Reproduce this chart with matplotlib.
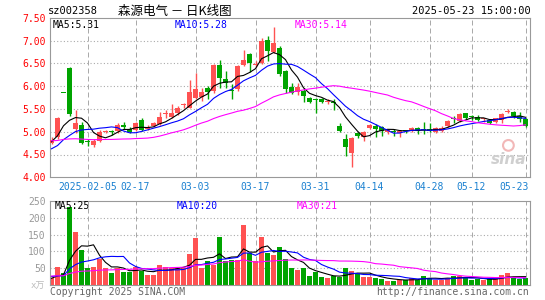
"""
Daily K-line chart (sz002358) with volume panel
"""

## Imports
import numpy as np
import pandas as pd
import matplotlib
matplotlib.use("Agg")
import matplotlib.pyplot as plt

## Data (one entry per trading day)
opens = [4.75, 4.88, 5.84, 6.40, 5.06, 5.15, 4.78, 4.71, 4.80, 5.00,
         4.99, 5.02, 5.15, 5.07, 5.04, 5.25, 5.06, 5.12, 5.17, 5.39,
         5.33, 5.42, 5.59, 5.53, 5.75, 5.77, 5.96, 5.89, 6.47, 6.16,
         5.90, 5.93, 6.47, 6.71, 6.47, 6.50, 7.02, 6.74, 6.83, 6.33,
         5.98, 5.86, 5.89, 5.75, 5.70, 5.71, 5.66, 5.63, 5.12, 4.84,
         4.54, 4.97, 4.88, 5.09, 5.13, 5.10, 4.99, 5.02, 4.97, 5.02,
         5.02, 5.09, 5.04, 5.07, 5.00, 5.02, 5.12, 5.31, 5.24, 5.40,
         5.33, 5.33, 5.27, 5.25, 5.21, 5.26, 5.43, 5.44, 5.35, 5.28]
highs = [4.88, 5.32, 5.84, 6.42, 5.48, 5.22, 4.85, 4.84, 5.04, 5.03,
         5.04, 5.20, 5.21, 5.10, 5.21, 5.30, 5.14, 5.22, 5.43, 5.48,
         5.60, 5.57, 5.64, 6.13, 6.29, 5.96, 6.00, 6.49, 6.58, 6.33,
         6.04, 6.47, 6.80, 6.73, 6.55, 7.05, 7.09, 7.30, 6.87, 6.36,
         6.07, 6.06, 5.96, 5.77, 5.73, 5.75, 5.72, 5.72, 5.20, 4.95,
         4.89, 5.00, 5.02, 5.17, 5.17, 5.13, 5.07, 5.06, 5.04, 5.04,
         5.11, 5.11, 5.22, 5.19, 5.11, 5.12, 5.26, 5.34, 5.40, 5.42,
         5.37, 5.37, 5.31, 5.28, 5.31, 5.40, 5.50, 5.46, 5.44, 5.31]
lows = [4.73, 4.85, 5.84, 5.35, 4.98, 4.73, 4.68, 4.67, 4.77, 4.97,
        4.93, 4.98, 5.07, 4.97, 5.02, 5.01, 5.04, 5.10, 5.15, 5.31,
        5.29, 5.36, 5.53, 5.51, 5.71, 5.67, 5.71, 5.84, 5.96, 5.96,
        5.72, 5.89, 6.43, 6.32, 6.41, 6.48, 6.54, 6.73, 6.23, 5.85,
        5.83, 5.81, 5.65, 5.64, 5.42, 5.62, 5.61, 5.48, 4.99, 4.47,
        4.23, 4.86, 4.80, 5.07, 4.88, 4.91, 4.95, 4.91, 4.88, 4.97,
        5.00, 4.95, 4.95, 5.00, 4.98, 5.00, 5.10, 5.20, 5.22, 5.28,
        5.25, 5.23, 5.22, 5.17, 5.18, 5.18, 5.40, 5.31, 5.22, 5.11]
closes = [4.82, 5.31, 5.84, 5.38, 5.20, 4.75, 4.78, 4.80, 4.99, 5.01,
          4.99, 5.15, 5.10, 5.00, 5.20, 5.04, 5.11, 5.18, 5.33, 5.42,
          5.42, 5.53, 5.61, 5.86, 5.94, 5.86, 5.86, 6.47, 6.18, 6.07,
          5.89, 6.45, 6.58, 6.50, 6.49, 6.98, 6.77, 6.94, 6.27, 5.94,
          5.85, 5.98, 5.78, 5.66, 5.69, 5.66, 5.67, 5.62, 5.01, 4.66,
          4.86, 4.91, 5.00, 5.14, 5.06, 5.02, 5.04, 4.99, 5.02, 5.01,
          5.09, 5.02, 5.03, 5.02, 5.09, 5.09, 5.24, 5.28, 5.38, 5.29,
          5.32, 5.25, 5.28, 5.19, 5.29, 5.38, 5.44, 5.35, 5.28, 5.13]
volumes = [22, 55, 35, 233, 157, 103, 50, 55, 78, 51,
           35, 50, 38, 38, 55, 43, 31, 31, 61, 53,
           50, 50, 50, 91, 140, 51, 70, 60, 143, 70,
           73, 73, 178, 95, 70, 143, 95, 88, 113, 77,
           50, 46, 50, 28, 40, 23, 20, 26, 23, 52,
           43, 33, 25, 25, 21, 18, 13, 13, 15, 15,
           21, 15, 28, 21, 16, 16, 21, 26, 28, 21,
           15, 18, 15, 17, 21, 29, 35, 21, 18, 21]

## Days before the window (estimated from where the MA lines start), only used for the MAs
pre_closes = [5.10, 5.15, 5.05, 5.08, 4.98, 5.02, 4.95, 4.92, 4.93, 4.98,
              5.00, 4.96, 4.94, 4.97, 4.92, 4.92, 4.70, 4.52, 4.38, 4.30,
              4.60, 4.55, 4.45, 4.35, 4.40, 4.66, 4.74, 4.78, 4.90]
pre_volumes = [32, 28, 35, 30, 26, 30, 28, 33, 27, 31,
               26, 24, 28, 22, 25, 27, 23, 21, 26, 24,
               36, 32, 28, 30, 26, 20, 18, 19, 21]

tick_idx = [6, 14, 24, 34, 44, 53, 63, 70, 79]
tick_lbl = ["2025-02-05", "02-17", "03-03", "03-17", "03-31",
            "04-14", "04-28", "05-12", "05-23"]
price_ticks = [4.0, 4.5, 5.0, 5.5, 6.0, 6.5, 7.0, 7.5]
vol_ticks = [50, 100, 150, 200, 250]
ma_lbl = ["MA5:5.31", "MA10:5.28", "MA30:5.14"]
vol_ma_lbl = ["MA5:25", "MA10:20", "MA30:21"]

## Styles
W, H = 545, 300
RED = "#ff5252"
GREEN = "#00a400"
MA_COLORS = ["#000000", "#0000ff", "#ff00ff"]
MA_X = [53, 175, 295]
FRAME = "#999999"
GRID = "#aaaaaa"
MONO = "DejaVu Sans Mono"


## Methods
def px(x, y):
    """pixel position (from top-left) -> figure fraction"""
    return x / W, 1 - y / H


def moving_average(pre, vals, n):
    s = pd.Series(list(pre) + list(vals), dtype=float)
    return s.rolling(n).mean().values[len(pre):]


def style_axes(ax):
    for sp in ax.spines.values():
        sp.set_color(FRAME)
        sp.set_linewidth(0.8)
    ax.tick_params(length=0)
    ax.set_xticks([])
    for i in tick_idx:
        ax.axvline(i, color=GRID, lw=0.72, ls=(0, (5, 3)), zorder=0)


def main():
    n = len(closes)
    x = np.arange(n)
    o = np.array(opens)
    c = np.array(closes)
    up = c > o
    colors = [RED if u else GREEN for u in up]

    fig = plt.figure(figsize=(W / 100, H / 100), dpi=100)

    ## Price panel
    ax = fig.add_axes([50 / W, 1 - 177.3 / H, 480 / W, 159.6 / H])
    style_axes(ax)
    ax.set_xlim(-0.25, n - 0.25)
    ax.set_ylim(price_ticks[0], price_ticks[-1])
    for p in price_ticks[1:-1]:
        ax.axhline(p, color=GRID, lw=0.8, ls=(0, (1, 2)), zorder=0)
    ax.set_yticks(price_ticks)
    ax.set_yticklabels(["%.2f" % p for p in price_ticks], color="#ff0000",
                       fontsize=7, family=MONO)
    ax.tick_params(axis="y", pad=3)

    ax.vlines(x, lows, highs, colors=colors, lw=1.0, zorder=2)
    body_lo = np.minimum(o, c)
    body_h = np.maximum(np.abs(c - o), 0.022)
    ax.bar(x, body_h, bottom=body_lo, width=0.8, color=colors, lw=0, zorder=3)

    for k, per in enumerate([5, 10, 30]):
        ax.plot(x, moving_average(pre_closes, closes, per),
                color=MA_COLORS[k], lw=0.8, zorder=4)
        fig.text(*px(MA_X[k], 25), ma_lbl[k], color=MA_COLORS[k],
                 fontsize=7, family=MONO, va="center")

    ## sina watermark (eye logo + word)
    ax.scatter([0.955], [0.2], s=60, transform=ax.transAxes, facecolor="none",
               edgecolor="#f2b8b8", lw=1.5, zorder=1)
    ax.text(0.955, 0.11, "sina", transform=ax.transAxes, ha="center", va="center",
            fontsize=11, fontweight="bold", style="italic", color="#cfcfcf", zorder=1)

    ## Date labels
    for i, lbl in zip(tick_idx, tick_lbl):
        xf = (50 + (i + 0.25) * 6) / W
        ha = "center"
        if i == tick_idx[-1]:
            ha, xf = "right", (50 + (i + 0.25) * 6 + 3) / W
        fig.text(xf, 1 - 187 / H, lbl, color="#1a80d0", fontsize=7,
                 family=MONO, ha=ha, va="center")

    ## Volume panel
    av = fig.add_axes([50 / W, 1 - 285 / H, 480 / W, 84 / H])
    style_axes(av)
    av.set_xlim(-0.25, n - 0.25)
    av.set_ylim(0, vol_ticks[-1])
    for v in vol_ticks[:-1]:
        av.axhline(v, color=GRID, lw=0.8, ls=(0, (1, 2)), zorder=0)
    av.set_yticks(vol_ticks)
    av.set_yticklabels([str(v) for v in vol_ticks], color="#999999",
                       fontsize=7, family=MONO)
    av.tick_params(axis="y", pad=3)
    av.bar(x, volumes, width=0.8, color=colors, lw=0, zorder=2)
    for k, per in enumerate([5, 10, 30]):
        av.plot(x, moving_average(pre_volumes, volumes, per),
                color=MA_COLORS[k], lw=0.8, zorder=4)
        fig.text(*px(MA_X[k] + 2, 206), vol_ma_lbl[k], color=MA_COLORS[k],
                 fontsize=7, family=MONO, va="center")

    ## Header and footer
    fig.text(*px(48, 11), "sz002358", fontsize=7.5, family=MONO, va="center")
    fig.text(*px(118, 11), "森源电气 － 日K线图", fontsize=9,
             family=["Noto Sans CJK SC", "DejaVu Sans"], va="center")
    fig.text(*px(531, 11), "2025-05-23 15:00:00", fontsize=7.5, family=MONO,
             ha="right", va="center")
    fig.text(*px(45, 286), "x万", fontsize=6.5, color="#bbbbbb",
             family=[MONO, "Noto Sans CJK SC"], ha="right", va="center")
    fig.text(*px(50, 292), "Copyright 2025 SINA.COM", fontsize=7,
             color="#666666", family=MONO, va="center")
    fig.text(*px(529, 292), "http://finance.sina.com.cn", fontsize=7,
             color="#666666", family=MONO, ha="right", va="center")

    fig.savefig("out.png", dpi=100, facecolor="white")


if __name__ == "__main__":
    main()
